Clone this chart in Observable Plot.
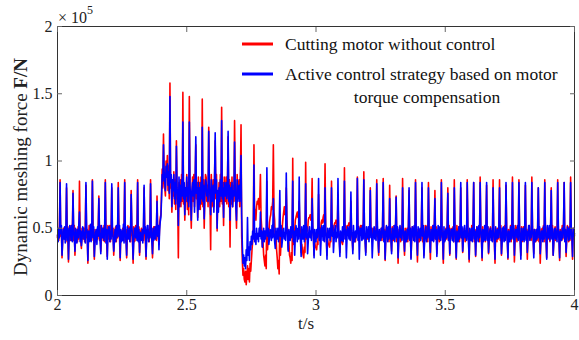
<!DOCTYPE html>
<html><head><meta charset="utf-8">
<script src="https://cdn.jsdelivr.net/npm/d3@7"></script>
<script src="https://cdn.jsdelivr.net/npm/@observablehq/plot@0.6"></script>
<style>body{margin:0;background:#fff;}</style>
</head><body><div id="chart"></div>
<script>
// Sampling grid (s) and dynamic meshing force values in kN (100 kN = 1 x 10^5 N)
const t0 = 2, dt = 0.0025;
const red = [
43,49,41,52,86,44,48,28,42,50, 50,42,48,40,80,50,43,25,51,41,
41,52,43,49,78,41,52,30,44,48, 49,40,51,42,85,48,40,35,50,43,
42,50,40,52,82,43,49,24,41,52, 51,43,49,41,86,50,42,27,49,40,
40,48,42,51,74,41,52,33,43,50, 50,41,52,40,86,49,41,29,52,42,
43,52,40,49,80,44,50,30,40,49, 51,40,49,43,84,51,42,26,48,41,
42,50,41,52,86,40,49,28,43,52, 49,42,51,40,78,48,43,24,51,40,
41,52,43,50,86,42,51,30,42,48, 50,41,48,41,80,51,40,27,49,43,
43,49,40,52,86,43,50,28,41,51, 51,42,50,41,74,49,43,38,52,58,
60,76,94,80,120,88,80,74,100,90, 104,78,96,72,158,80,86,62,82,74,
92,68,86,64,115,76,70,28,84,72, 86,66,90,70,151,68,80,56,76,70,
90,64,84,60,148,78,68,50,74,88, 70,90,66,86,112,72,84,58,88,68,
84,64,88,68,146,66,86,50,72,90, 88,70,82,66,125,84,70,34,90,66,
68,86,66,88,115,72,90,48,74,66, 84,66,90,70,140,68,84,52,88,72,
70,88,68,84,118,66,86,36,84,68, 88,66,82,70,130,84,68,50,90,72,
82,86,66,88,127,44,26,15,20,12, 10,18,8,14,22,12,20,10,24,18,
26,34,40,50,112,58,64,56,66,70, 68,72,64,70,90,58,50,36,40,30,
26,22,30,20,85,34,42,46,54,58, 60,66,64,70,112,62,56,40,46,34,
28,20,26,16,60,30,40,44,52,58, 62,66,60,64,80,56,48,34,40,30,
28,24,32,26,102,38,46,48,56,58, 60,62,58,60,70,52,46,32,38,34,
30,28,36,32,99,42,48,48,56,58, 58,60,56,58,87,50,44,30,40,36,
36,34,40,38,75,44,50,46,54,56, 54,58,60,54,98,48,44,30,42,38,
38,36,42,40,85,46,50,48,52,54, 54,56,52,50,75,46,42,32,44,40,
40,38,44,42,95,48,52,46,50,52, 52,54,50,48,70,46,42,34,44,42,
42,40,46,44,88,48,50,44,50,52, 50,52,48,46,92,44,42,32,46,42,
44,42,48,46,80,50,48,40,50,48, 48,50,46,44,86,46,42,30,48,44,
43,50,41,52,87,42,49,26,44,51, 50,42,49,40,82,50,42,33,51,41,
41,52,43,50,74,40,51,24,43,49, 49,40,51,42,87,49,41,30,50,42,
42,50,40,52,78,43,50,28,41,51, 51,43,48,41,86,51,42,25,49,40,
40,49,42,51,80,40,48,30,43,52, 50,41,52,40,84,49,43,27,51,42,
43,52,41,49,78,42,51,31,40,49, 51,40,49,43,86,50,40,24,48,41,
41,50,42,52,80,41,52,30,43,50, 49,42,51,40,86,48,41,27,52,43,
42,51,40,49,80,43,50,32,41,48, 50,40,48,42,86,51,42,25,49,41,
41,52,43,50,84,40,49,29,44,51, 49,41,51,40,88,50,43,26,51,42,
42,49,40,52,82,42,51,31,40,49, 51,43,48,41,86,49,40,24,50,43,
40,50,42,51,86,41,52,30,42,48, 50,41,52,43,82,50,42,27,49,41,
42,52,40,49,88,43,50,25,41,52, 49,40,51,42,86,48,41,30,51,40,
41,51,43,50,82,42,49,27,43,50, 52,42,48,41,88,51,43,31,49,42,
40,49,41,52,80,40,50,24,42,49, 50,43,52,40,86,49,41,28,51,43,
42,50,40,49,80,43,52,30,40,48, 51,41,49,43,86,50,42,26,49,41,
41,52,42,50,84,41,49,29,43,52, 49,40,51,41,88,48,43,27,50,42,
45];
const blue = [
45,40,50,43,84,46,52,30,40,49, 42,51,39,48,83,41,50,27,44,52,
48,41,52,40,76,49,43,33,50,41, 39,49,43,53,62,40,48,37,42,51,
50,42,47,39,84,52,44,26,48,40, 41,53,40,49,85,43,51,29,39,47,
49,38,51,44,72,48,40,31,52,43, 43,50,41,52,84,39,49,27,46,51,
51,40,48,42,83,50,42,33,41,49, 40,52,43,50,80,44,52,28,49,40,
48,41,53,39,84,47,41,30,51,43, 42,50,40,48,75,52,44,27,40,50,
50,43,51,41,84,40,49,32,47,42, 41,49,39,52,82,46,51,29,43,52,
52,40,47,43,83,50,40,31,50,41, 43,51,42,49,70,44,52,34,48,55,
58,72,90,85,112,92,84,78,96,88, 98,82,92,76,148,84,90,66,86,78,
90,72,84,68,111,80,74,52,88,66, 82,70,86,74,129,72,84,60,80,74,
88,70,80,66,129,82,72,56,78,84, 74,86,62,82,118,76,80,56,84,64,
80,68,84,72,125,70,82,57,76,86, 84,74,78,70,122,80,74,60,86,70,
72,82,62,84,121,76,86,50,78,62, 80,70,86,74,130,72,80,58,84,76,
74,84,72,80,122,70,82,56,80,72, 84,66,78,74,114,80,66,56,86,70,
78,82,70,84,104,60,38,24,30,22, 28,20,34,26,58,30,36,26,40,34,
44,38,48,42,97,40,46,38,50,42, 46,40,50,44,62,42,48,36,44,50,
40,48,42,50,95,44,50,38,42,49, 48,41,52,43,72,47,40,35,50,42,
42,50,40,48,78,44,52,36,41,49, 50,42,47,41,91,50,43,33,49,41,
41,51,43,52,85,40,48,30,44,52, 49,40,50,42,88,47,41,29,51,42,
42,52,40,49,83,43,51,31,40,48, 51,43,48,41,72,52,44,28,49,40,
40,49,43,51,87,41,50,30,43,52, 48,41,52,40,80,48,42,27,50,43,
43,50,41,49,80,44,52,32,41,49, 52,40,47,43,87,50,40,29,48,41,
41,51,40,52,85,42,49,28,43,51, 49,42,51,41,77,48,43,31,52,40,
40,48,43,50,87,41,51,27,44,50, 50,41,52,42,86,49,40,30,51,43,
43,51,40,49,78,43,50,28,40,48, 51,42,48,41,83,52,42,32,49,41,
41,50,43,52,84,40,48,27,43,52, 49,40,51,42,72,47,41,31,50,42,
42,52,40,48,73,43,51,28,41,49, 52,43,49,41,80,50,43,33,48,40,
40,49,42,51,80,41,50,27,44,51, 48,41,52,40,84,49,42,30,51,43,
43,50,41,49,84,44,52,28,40,48, 51,40,48,43,80,50,41,32,49,41,
41,52,40,50,72,42,49,29,43,52, 50,42,51,41,84,48,43,27,51,40,
42,49,43,52,76,41,50,31,44,49, 49,41,50,40,80,50,42,28,48,42,
40,51,42,49,84,43,51,33,41,50, 52,43,48,41,84,49,40,27,50,43,
41,50,40,51,84,42,48,30,43,51, 48,40,52,43,84,50,43,28,49,40,
43,52,41,49,84,41,51,32,42,48, 50,41,48,40,80,48,42,27,51,43,
42,49,43,52,80,43,50,31,40,50, 51,40,50,41,84,50,41,28,48,42,
40,51,42,48,84,42,52,30,43,49, 49,43,52,41,84,49,40,27,50,41,
42,50,40,51,84,41,48,32,42,52, 52,41,48,43,84,50,43,28,49,40,
41,49,42,50,80,43,51,31,41,48, 48,40,51,42,84,48,42,27,52,43,
43,52,41,49,78,42,50,30,40,49, 50,42,48,40,84,51,41,28,48,42,
41,50,43,52,84,40,49,32,43,51, 49,41,50,42,84,48,43,29,50,44,
46];
const seriesNames = ["Cutting motor without control", "Active control strategy based on motor", "torque compensation"];
const seriesColors = ["#ff0000", "#0000ff"];
const xTicks = [2, 2.5, 3, 3.5, 4];
const xTickLabels = ["2", "2.5", "3", "3.5", "4"];
const yTicks = [0, 50, 100, 150, 200];
const yTickLabels = ["0", "0.5", "1", "1.5", "2"];

const redRows = red.map((v, i) => ({t: t0 + i * dt, f: v}));
const blueRows = blue.map((v, i) => ({t: t0 + i * dt, f: v}));

const font = "'Liberation Serif', 'Times New Roman', serif";
const svg = Plot.plot({
  width: 579, height: 340,
  marginLeft: 57, marginRight: 5, marginTop: 26, marginBottom: 45,
  style: {fontFamily: font, fontSize: "16px", background: "#fff", color: "#222", overflow: "visible"},
  x: {domain: [2, 4]},
  y: {domain: [0, 200]},
  marks: [
    Plot.line(redRows, {x: "t", y: "f", stroke: seriesColors[0], strokeWidth: 1.6}),
    Plot.line(blueRows, {x: "t", y: "f", stroke: seriesColors[1], strokeWidth: 1.6}),
    Plot.frame({stroke: "#333"}),
    Plot.axisX({ticks: xTicks, tickFormat: d => xTickLabels[xTicks.indexOf(d)], tickSize: -5, tickPadding: 8, label: null, stroke: "#666", fill: "#222"}),
    Plot.axisX({anchor: "top", ticks: xTicks, tickFormat: () => "", tickSize: -5, label: null, stroke: "#666"}),
    Plot.axisY({ticks: yTicks, tickFormat: d => yTickLabels[yTicks.indexOf(d)], tickSize: -5, tickPadding: 10, label: null, stroke: "#666", fill: "#222"}),
    Plot.axisY({anchor: "right", ticks: yTicks, tickFormat: () => "", tickSize: -5, label: null, stroke: "#666"}),
    Plot.text(["t/s"], {frameAnchor: "bottom", dy: 33, dx: -10, fontSize: 17, fill: "#222"})
  ]
});

const s = d3.select(svg);
// y-axis label
const yl = s.append("text")
  .attr("transform", "translate(27,167) rotate(-90)")
  .attr("text-anchor", "middle")
  .attr("font-family", font).attr("font-size", 19).attr("fill", "#222");
yl.append("tspan").text("Dynamic meshing force ");
yl.append("tspan").attr("font-weight", "bold").text("F/N");
// exponent
const ex = s.append("text").attr("x", 58).attr("y", 23).attr("text-anchor", "start")
  .attr("font-family", font).attr("font-size", 16).attr("fill", "#222");
ex.append("tspan").text("\u00d7 10");
ex.append("tspan").attr("font-size", 12).attr("dy", -9).text("5");
// legend
const lg = s.append("g").attr("font-family", font).attr("font-size", 17.5).attr("fill", "#111");
lg.append("line").attr("x1", 242).attr("x2", 273).attr("y1", 44).attr("y2", 44).attr("stroke", seriesColors[0]).attr("stroke-width", 3);
lg.append("text").attr("x", 285).attr("y", 50).attr("text-anchor", "start").text(seriesNames[0]);
lg.append("line").attr("x1", 242).attr("x2", 273).attr("y1", 74).attr("y2", 74).attr("stroke", seriesColors[1]).attr("stroke-width", 3);
lg.append("text").attr("x", 285).attr("y", 80).attr("text-anchor", "start").text(seriesNames[1]);
lg.append("text").attr("x", 427).attr("y", 103).attr("text-anchor", "middle").text(seriesNames[2]);

document.getElementById("chart").appendChild(svg);
</script>
</body></html>
